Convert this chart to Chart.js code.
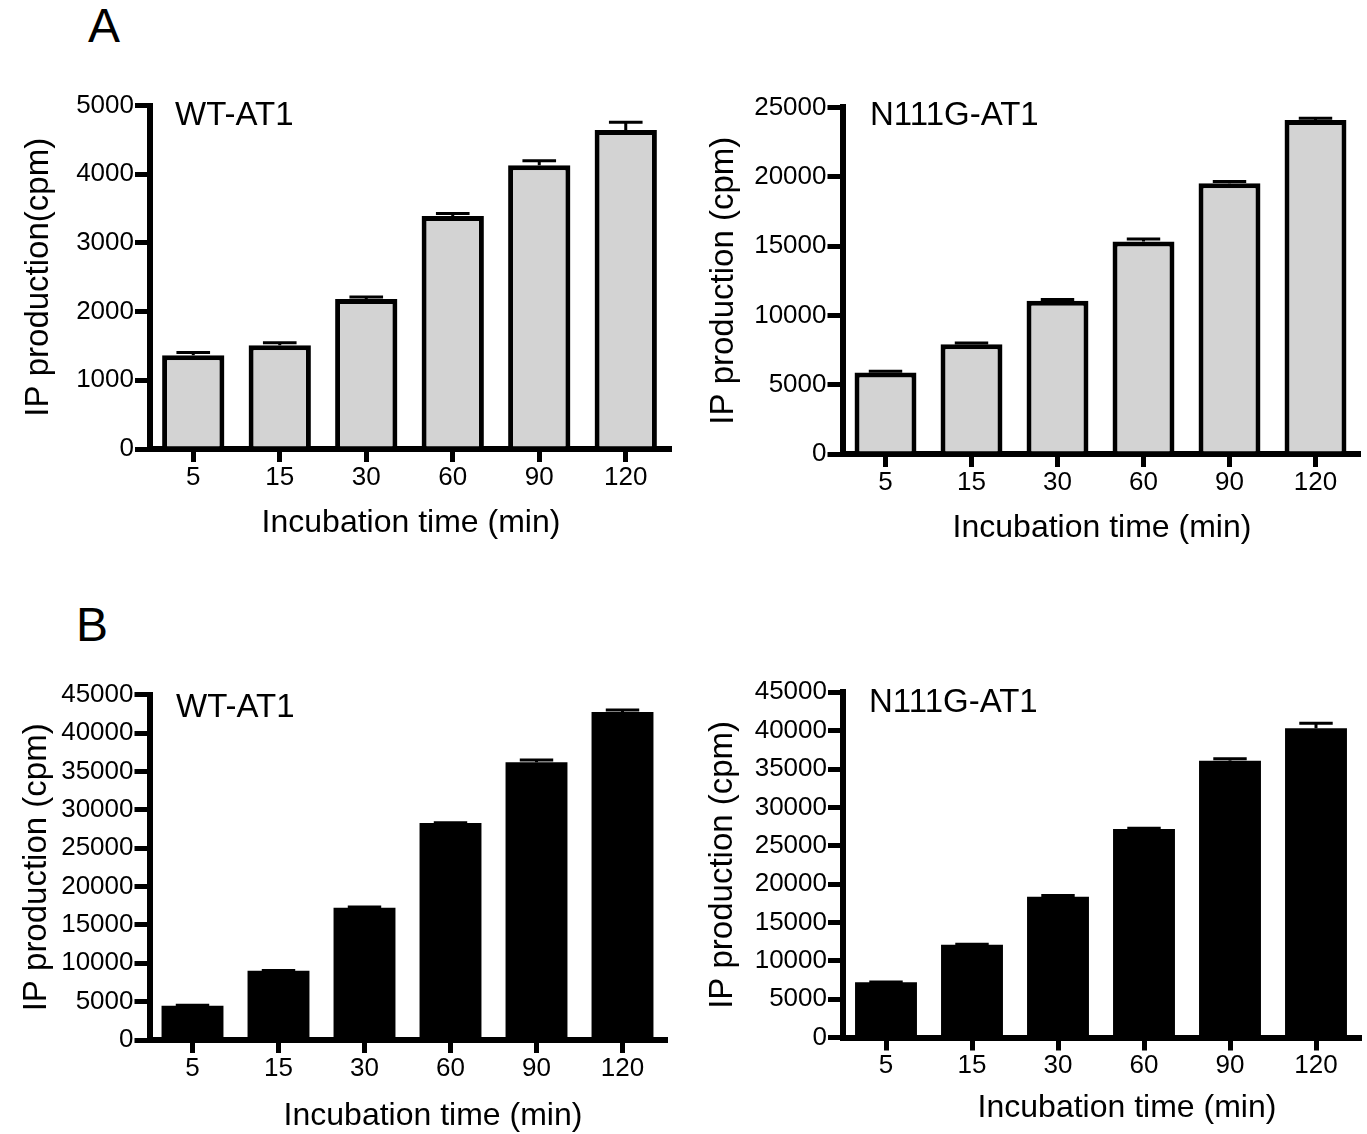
<!DOCTYPE html>
<html>
<head>
<meta charset="utf-8">
<script src="https://cdn.jsdelivr.net/npm/chart.js"></script>
<style>
  body { margin: 0; background: #fff; }
  #fig { position: relative; width: 1367px; height: 1134px; overflow: hidden;
         font-family: "Liberation Sans", Arial, sans-serif; color: #000; }
  #fig canvas { position: absolute; }
  .panel-letter { position: absolute; font-size: 48px; line-height: 1; }
</style>
</head>
<body>
<div id="fig">
  <div class="panel-letter" style="left:88px; top:2px;">A</div>
  <div class="panel-letter" style="left:76px; top:601px;">B</div>
</div>
<script>
// incubation times (min)
const timeLabels = ['5', '15', '30', '60', '90', '120'];

// A: IP production, grey bars (mean and SEM)
const wtMeanA  = [1365, 1510, 2185, 3390, 4130, 4645];
const wtSemA   = [40, 37, 27, 38, 65, 110];
const mutMeanA = [5870, 7920, 11060, 15320, 19530, 24100];
const mutSemA  = [90, 80, 90, 180, 130, 110];

// B: IP production, black bars (mean and SEM)
const wtMeanB  = [4470, 9030, 17240, 28280, 36190, 42750];
const wtSemB   = [60, 40, 100, 40, 300, 250];
const mutMeanB = [7200, 12100, 18360, 27180, 36080, 40310];
const mutSemB  = [40, 40, 150, 90, 250, 650];

// y tick values
const ticksWtA  = [0, 1000, 2000, 3000, 4000, 5000];
const ticksMutA = [0, 5000, 10000, 15000, 20000, 25000];
const ticksB    = [0, 5000, 10000, 15000, 20000, 25000, 30000, 35000, 40000, 45000];

const FONT = '"Liberation Sans", Arial, sans-serif';
Chart.defaults.font.family = FONT;
Chart.defaults.color = '#000';

// upper error bar (stem + cap) above each bar
const errorBars = {
  id: 'errorBars',
  afterDatasetsDraw(chart) {
    const { ctx } = chart;
    const yScale = chart.scales.y;
    const ds = chart.data.datasets[0];
    const meta = chart.getDatasetMeta(0);
    ctx.save();
    ctx.strokeStyle = '#000';
    ctx.lineWidth = 3;
    meta.data.forEach((bar, i) => {
      const top = yScale.getPixelForValue(ds.data[i] + ds.errors[i]);
      const half = bar.width * 0.27;
      ctx.beginPath();
      ctx.moveTo(bar.x, bar.y);
      ctx.lineTo(bar.x, top);
      ctx.moveTo(bar.x - half, top);
      ctx.lineTo(bar.x + half, top);
      ctx.stroke();
    });
    ctx.restore();
  }
};

// construct label inside the plot and the x-axis title
const panelText = {
  id: 'panelText',
  afterDraw(chart, args, o) {
    const { ctx } = chart;
    ctx.save();
    ctx.fillStyle = '#000';
    ctx.textBaseline = 'alphabetic';
    ctx.font = '33px ' + FONT;
    ctx.textAlign = 'left';
    ctx.fillText(o.label, o.labelX, o.labelY);
    ctx.font = '32px ' + FONT;
    ctx.textAlign = 'center';
    ctx.fillText(o.xTitle, o.xTitleX, o.xTitleY);
    ctx.restore();
  }
};

const fig = document.getElementById('fig');

function makePanel(p) {
  const { box, axes } = p;
  const canvas = document.createElement('canvas');
  canvas.width = box.w;
  canvas.height = box.h;
  canvas.style.left = box.x + 'px';
  canvas.style.top = box.y + 'px';
  fig.appendChild(canvas);

  const tickMarks = (len) => ({
    display: true, drawOnChartArea: false, drawTicks: true,
    offset: false, tickLength: len, lineWidth: 5, color: '#000'
  });

  new Chart(canvas, {
    type: 'bar',
    data: {
      labels: timeLabels,
      datasets: [{
        data: p.means,
        errors: p.errors,
        backgroundColor: p.fill,
        borderColor: '#000',
        borderWidth: p.border,
        borderSkipped: 'start',
        barPercentage: 0.72,
        categoryPercentage: 1
      }]
    },
    options: {
      responsive: false,
      animation: false,
      events: [],
      layout: {
        padding: { left: 0, top: axes.top - box.y, right: box.x + box.w - axes.right, bottom: 0 }
      },
      plugins: {
        legend: { display: false },
        tooltip: { enabled: false },
        panelText: {
          label: p.label,
          labelX: p.labelPos[0] - box.x, labelY: p.labelPos[1] - box.y,
          xTitle: 'Incubation time (min)',
          xTitleX: p.xTitlePos[0] - box.x, xTitleY: p.xTitlePos[1] - box.y
        }
      },
      scales: {
        x: {
          grid: tickMarks(13),
          border: { display: true, width: 6, color: '#000' },
          ticks: { font: { size: 26 }, padding: 0, maxRotation: 0 },
          afterFit: (s) => { s.height = box.y + box.h - axes.bottom; }
        },
        y: {
          min: 0,
          max: p.ticks[p.ticks.length - 1],
          afterBuildTicks: (s) => { s.ticks = p.ticks.map(v => ({ value: v })); },
          grid: tickMarks(15),
          border: { display: true, width: 6, color: '#000' },
          ticks: { font: { size: 26 }, padding: 1, callback: (v) => String(v) },
          title: { display: true, text: p.yTitle, font: { size: 33 }, padding: { top: p.yTitlePad, bottom: 0 } },
          afterFit: (s) => { s.width = axes.left - box.x; }
        }
      }
    },
    plugins: [errorBars, panelText]
  });
}

makePanel({
  box: { x: 0, y: 60, w: 683, h: 520 },
  axes: { left: 150, top: 105.5, bottom: 449, right: 669 },
  means: wtMeanA, errors: wtSemA, ticks: ticksWtA,
  fill: '#d3d3d3', border: 5,
  label: 'WT-AT1', labelPos: [175, 125],
  yTitle: 'IP production(cpm)', yTitlePad: 19,
  xTitlePos: [411, 532]
});

makePanel({
  box: { x: 683, y: 60, w: 684, h: 520 },
  axes: { left: 842.5, top: 107.4, bottom: 454, right: 1358.5 },
  means: mutMeanA, errors: mutSemA, ticks: ticksMutA,
  fill: '#d3d3d3', border: 5,
  label: 'N111G-AT1', labelPos: [870, 125],
  yTitle: 'IP production (cpm)', yTitlePad: 21,
  xTitlePos: [1102, 537]
});

makePanel({
  box: { x: 0, y: 640, w: 683, h: 494 },
  axes: { left: 149.5, top: 694.7, bottom: 1040, right: 665.5 },
  means: wtMeanB, errors: wtSemB, ticks: ticksB,
  fill: '#000', border: 0,
  label: 'WT-AT1', labelPos: [176, 717],
  yTitle: 'IP production (cpm)', yTitlePad: 17,
  xTitlePos: [433, 1125]
});

makePanel({
  box: { x: 683, y: 640, w: 684, h: 494 },
  axes: { left: 843, top: 692.3, bottom: 1037.5, right: 1359 },
  means: mutMeanB, errors: mutSemB, ticks: ticksB,
  fill: '#000', border: 0,
  label: 'N111G-AT1', labelPos: [869, 712],
  yTitle: 'IP production (cpm)', yTitlePad: 20,
  xTitlePos: [1127, 1117]
});
</script>
</body>
</html>
